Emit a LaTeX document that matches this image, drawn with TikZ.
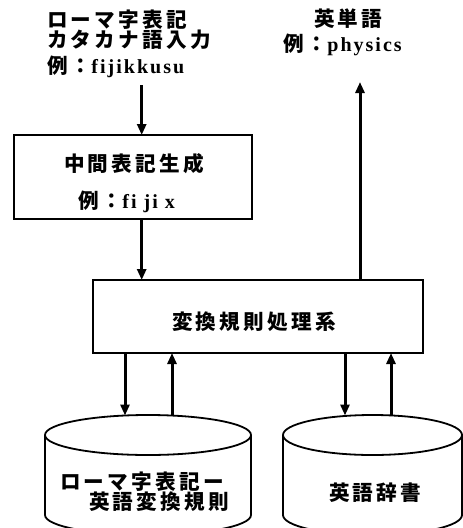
\documentclass[tikz,border=0pt]{standalone}
\usepackage{fontspec}
\usetikzlibrary{arrows.meta,shapes.geometric}
\setmainfont{Liberation Serif}
\newfontfamily\jpf{Noto Sans CJK JP}[LetterSpace=16]
\newfontfamily\latf{Liberation Serif}[LetterSpace=10]
\newcommand\jtxt[1]{{\jpf\bfseries\fontsize{20.6}{24}\selectfont #1}}
\newcommand\ltxt[1]{{\latf\bfseries\fontsize{20}{22}\selectfont #1}}
\begin{document}
\begin{tikzpicture}[x=1pt,y=-1pt,
  every node/.style={inner sep=0pt,outer sep=0pt},
  lbl/.style={anchor=west},
  box/.style={draw,line width=1.8pt},
  cyl/.style={draw,line width=1.8pt},
  arr/.style={line width=3pt,-{Triangle[length=11pt,width=9pt]}}]
\useasboundingbox (0,0) rectangle (463,528);
\clip (0,0) rectangle (463,528);
% input text
\node[lbl] (t1) at (47,20) {\jtxt{ローマ字表記}};
\node[lbl] (t2) at (47,40) {\jtxt{カタカナ語入力}};
\node[lbl] (t3) at (47,67) {\jtxt{例：}\ltxt{fijikkusu}};
% output text
\node[lbl] (t4) at (314,18.5) {\jtxt{英単語}};
\node[lbl] (t5) at (283,45) {\jtxt{例：}\ltxt{physics}};
% boxes
\node[box,minimum width=238pt,minimum height=84pt] (b1) at (133,177) {};
\node[lbl] (t6) at (64,164) {\jtxt{中間表記生成}};
\node[lbl] (t7) at (78,202) {\jtxt{例：}\ltxt{fi ji x}};
\node[box,minimum width=330pt,minimum height=73pt] (b2) at (258,316.5) {};
\node[lbl] (t8) at (172,322) {\jtxt{変換規則処理系}};
% cylinders
\draw[cyl] (45,435) -- (45,515) arc[start angle=180,end angle=0,x radius=103,y radius=20] -- (251,435);
\node[cyl,ellipse,minimum width=206pt,minimum height=40pt] (c1) at (148,435) {};
\draw[cyl] (283,435) -- (283,515) arc[start angle=180,end angle=0,x radius=89.5,y radius=20] -- (462,435);
\node[cyl,ellipse,minimum width=179pt,minimum height=40pt] (c2) at (372.5,435) {};
\node[lbl] (t9) at (60,481.5) {\jtxt{ローマ字表記ー}};
\node[lbl] (t10) at (89,502) {\jtxt{英語変換規則}};
\node[lbl] (t11) at (329,493) {\jtxt{英語辞書}};
% connectors
\coordinate (in1) at (141.7,85);
\coordinate (out1) at (360,82);
\coordinate (l1) at (125,415.5);
\coordinate (l2) at (172,415);
\coordinate (r1) at (345,415.5);
\coordinate (r2) at (391,416);
\draw[arr] (in1) -- (in1 |- b1.north);
\draw[arr] (b1.south -| in1) -- (b2.north -| in1);
\draw[arr] (b2.north -| out1) -- (out1);
\draw[arr] (b2.south -| l1) -- (l1);
\draw[arr] (l2) -- (b2.south -| l2);
\draw[arr] (b2.south -| r1) -- (r1);
\draw[arr] (r2) -- (b2.south -| r2);
\end{tikzpicture}
\end{document}
